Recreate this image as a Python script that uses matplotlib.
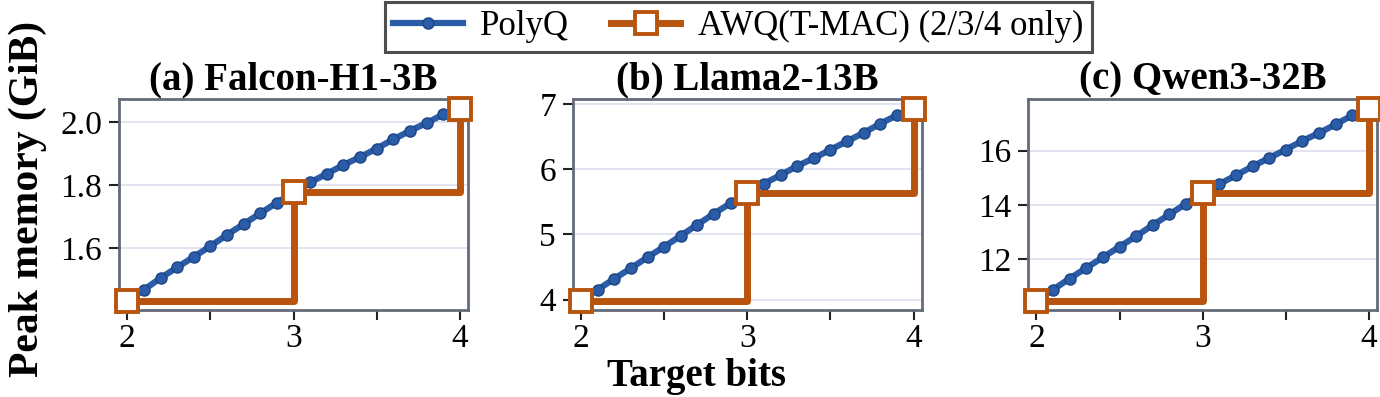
import matplotlib
matplotlib.use("Agg")
import matplotlib.pyplot as plt
from matplotlib.ticker import MultipleLocator
import numpy as np

plt.rcParams['font.family'] = ['Liberation Serif', 'DejaVu Serif']

titles = ["(a) Falcon-H1-3B", "(b) Llama2-13B", "(c) Qwen3-32B"]

# PolyQ: target bits 2.0 .. 4.0 in 0.1 steps
polyq_bits = [2.0, 2.1, 2.2, 2.3, 2.4, 2.5, 2.6, 2.7, 2.8, 2.9, 3.0,
              3.1, 3.2, 3.3, 3.4, 3.5, 3.6, 3.7, 3.8, 3.9, 4.0]
polyq_a = [1.435, 1.469, 1.506, 1.540, 1.573, 1.607, 1.643, 1.677, 1.711, 1.745, 1.777,
           1.809, 1.836, 1.864, 1.889, 1.916, 1.945, 1.972, 1.997, 2.024, 2.040]
polyq_b = [3.985, 4.15, 4.32, 4.48, 4.65, 4.81, 4.98, 5.15, 5.32, 5.48, 5.63,
           5.78, 5.91, 6.05, 6.17, 6.30, 6.43, 6.56, 6.70, 6.83, 6.92]
polyq_c = [10.48, 10.88, 11.29, 11.68, 12.07, 12.46, 12.85, 13.26, 13.65, 14.05, 14.44,
           14.77, 15.09, 15.42, 15.73, 16.04, 16.36, 16.65, 16.97, 17.30, 17.52]

# AWQ (T-MAC) only at 2/3/4 bits
awq_bits = [2, 3, 4]
awq_a = [1.435, 1.777, 2.040]
awq_b = [3.985, 5.63, 6.92]
awq_c = [10.48, 14.44, 17.52]

polyq = [polyq_a, polyq_b, polyq_c]
awq = [awq_a, awq_b, awq_c]
ytick_sets = [[1.6, 1.8, 2.0], [4, 5, 6, 7], [12, 14, 16]]
yfmt = ["%.1f", "%d", "%d"]

blue = "#2a5ca8"
orange = "#b8540e"
spine_c = "#646b78"

fig = plt.figure(figsize=(13.8, 3.97), dpi=100)
lefts = [0.0862, 0.415, 0.745]
axes = []
for i in range(3):
    ax = fig.add_axes([lefts[i], 0.219, 0.253, 0.532])
    axes.append(ax)
    l1, = ax.plot(polyq_bits, polyq[i], color=blue, lw=4.5, marker="o", ms=8,
                  mfc=blue, mec="#1d4585", mew=1, zorder=2, label="PolyQ")
    l2, = ax.plot(awq_bits, awq[i], color=orange, lw=5, drawstyle="steps-post",
                  marker="s", ms=16, mfc="white", mec=orange, mew=2.8, zorder=3,
                  clip_on=False, label="AWQ(T-MAC) (2/3/4 only)")
    ax.set_xlim(1.95, 4.05)
    ax.set_xticks([2, 3, 4])
    ax.xaxis.set_minor_locator(MultipleLocator(0.5))
    ax.set_yticks(ytick_sets[i])
    ax.set_yticklabels([yfmt[i] % v for v in ytick_sets[i]])
    lo, hi = min(awq[i]), max(awq[i])
    pad = (hi - lo) * 0.05
    ax.set_ylim(lo - pad, hi + pad * 1.1)
    ax.grid(axis="y", color="#dcdfee", lw=1.2, zorder=0)
    ax.set_axisbelow(True)
    for s in ax.spines.values():
        s.set_color(spine_c)
        s.set_linewidth(2)
    ax.tick_params(which="both", direction="out", length=7, width=1.5,
                   color="#222222", labelsize=24, pad=5)
    ax.tick_params(axis="x", pad=3)
    ax.set_title(titles[i], fontsize=28, fontweight="bold", pad=4)

fig.text(0.02, 0.5, "Peak memory (GiB)", rotation=90, va="center", ha="center",
         fontsize=30, fontweight="bold")
fig.text(0.505, 0.004, "Target bits", ha="center", va="bottom",
         fontsize=28, fontweight="bold")

leg = fig.legend(handles=[l1, l2], loc="upper center", bbox_to_anchor=(0.535, 1.0),
                 ncol=2, fontsize=25, frameon=True, fancybox=False,
                 handlelength=2.0, columnspacing=1.2, borderpad=0.25,
                 handletextpad=0.5, borderaxespad=0.05)
leg.get_frame().set_edgecolor("#222222")
leg.get_frame().set_linewidth(2.2)

fig.savefig("out.png", dpi=100)
